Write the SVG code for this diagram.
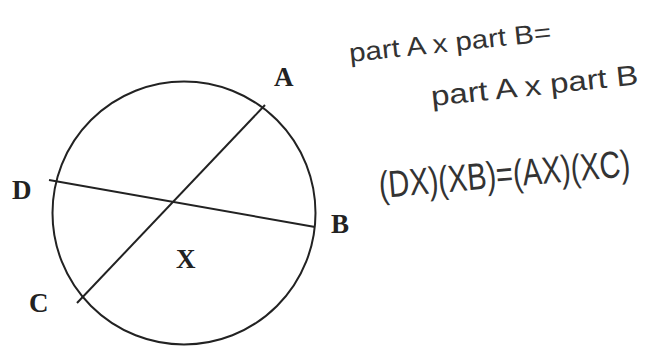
<svg xmlns="http://www.w3.org/2000/svg" width="649" height="347" viewBox="0 0 649 347">
<style>
.lbl{font-family:"Liberation Serif","Times New Roman",serif;font-weight:bold;font-size:27px;fill:#222}
.hw{font-family:"Liberation Sans",Arial,sans-serif;fill:#333;font-weight:normal}
.ln{stroke:#222;stroke-width:2;fill:none}
</style>
<rect width="649" height="347" fill="#fff"/>
<g id="circle"><ellipse class="ln" cx="184" cy="213" rx="131.5" ry="131.5"/></g>
<g id="connectors">
<line id="chord-AC" class="ln" x1="265" y1="105" x2="77" y2="303"/>
<line id="chord-DB" class="ln" x1="49" y1="180" x2="315" y2="227"/>
</g>
<g id="node-A"><text class="lbl" x="274" y="86">A</text></g>
<g id="node-D"><text class="lbl" x="12" y="199">D</text></g>
<g id="node-B"><text class="lbl" x="331" y="233">B</text></g>
<g id="node-X"><text class="lbl" x="176" y="268">X</text></g>
<g id="node-C"><text class="lbl" x="29" y="312">C</text></g>
<g id="notes">
<text class="hw" font-size="26" transform="translate(350 62) rotate(-6)" textLength="203" lengthAdjust="spacingAndGlyphs">part A x part B=</text>
<text class="hw" font-size="28" transform="translate(432 106) rotate(-6)" textLength="208" lengthAdjust="spacingAndGlyphs">part A x part B</text>
<text class="hw" font-size="29" transform="translate(380 198) rotate(-5) scale(1 1.3)" textLength="252" lengthAdjust="spacingAndGlyphs">(DX)(XB)=(AX)(XC)</text>
</g>
</svg>
